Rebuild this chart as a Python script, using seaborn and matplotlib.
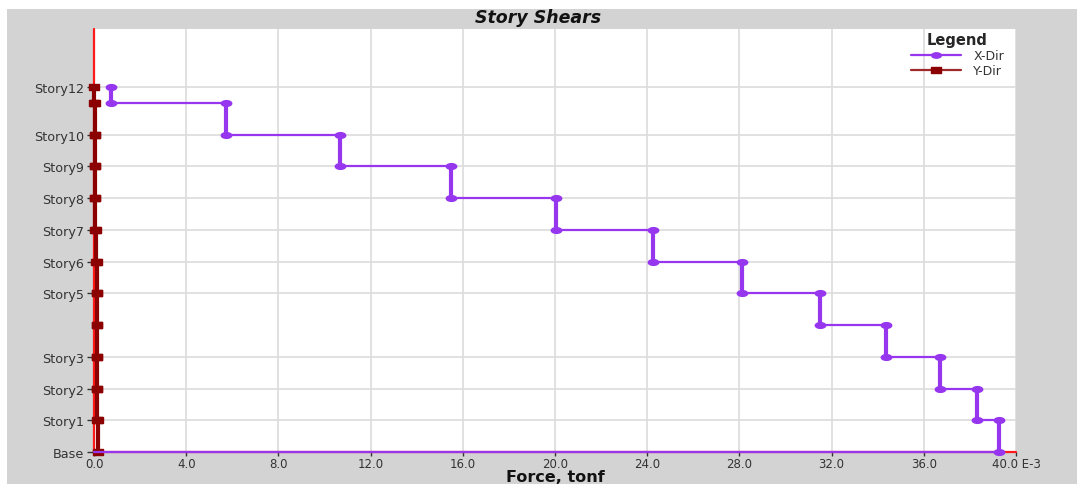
import numpy as np
import pandas as pd
import matplotlib
matplotlib.use("Agg")
import matplotlib.pyplot as plt
from matplotlib.path import Path
from matplotlib.lines import Line2D
from matplotlib.patches import Rectangle
import seaborn as sns

# Story names (top to bottom) and floor elevations in metres
stories = ["Story12", "Story11", "Story10", "Story9", "Story8", "Story7",
           "Story6", "Story5", "Story4", "Story3", "Story2", "Story1"]
elevations = [34.5, 33.0, 30.0, 27.0, 24.0, 21.0, 18.0, 15.0, 12.0, 9.0, 6.0, 3.0]
base_elevation = 0.0

# Story shears, tonf x 1E-3
shear_x = [0.74, 5.73, 10.67, 15.49, 20.04, 24.25, 28.11, 31.50, 34.36, 36.70, 38.30, 39.26]
shear_y = [0.02, 0.03, 0.04, 0.05, 0.05, 0.10, 0.11, 0.12, 0.13, 0.14, 0.15, 0.16]

# Axis labelling
tick_stories = ["Story12", "Story10", "Story9", "Story8", "Story7", "Story6",
                "Story5", "Story3", "Story2", "Story1", "Base"]
x_ticks = [0, 4, 8, 12, 16, 20, 24, 28, 32, 36, 40]
x_tick_labels = ["0.0", "4.0", "8.0", "12.0", "16.0", "20.0", "24.0",
                 "28.0", "32.0", "36.0", "40.0 E-3"]

C_X = "#9636EE"
C_Y = "#8B0000"
C_ZERO = "#FF1A1A"
BG = "#D3D3D3"

sns.set_theme(style="white")
plt.rcParams["font.family"] = ["DejaVu Sans"]


def step_profile(values):
    """Shear profile: each story's shear held between its floor and the floor below."""
    lower = elevations[1:] + [base_elevation]
    xs, ys = [], []
    for v, top, bot in zip(values, elevations, lower):
        xs += [v, v]
        ys += [top, bot]
    xs.append(0.0)
    ys.append(base_elevation)
    return pd.DataFrame({"force": xs, "elev": ys, "order": range(len(xs))})


prof_x = step_profile(shear_x)
prof_y = step_profile(shear_y)

fig = plt.figure(figsize=(10.77, 4.85), dpi=100, facecolor="white")
fig.patches.append(Rectangle((7 / 1077, 0), 1 - 7 / 1077, 1 - 10 / 485,
                             transform=fig.transFigure, facecolor=BG,
                             edgecolor="none", zorder=-10))
ax = fig.add_axes([94 / 1077, 32 / 485, 922 / 1077, 423 / 485])
ax.set_facecolor("white")

# zero reference lines
ax.axvline(0, color=C_ZERO, lw=1.6, zorder=2, clip_on=False)
ax.axhline(0, color=C_ZERO, lw=1.6, zorder=2, clip_on=False)

# flattened markers
circ = Path.unit_circle()
ell = Path(circ.vertices * np.array([1.0, 0.55]), circ.codes)
rect = Path([(-1, -0.6), (1, -0.6), (1, 0.6), (-1, 0.6), (-1, -0.6)],
            [Path.MOVETO, Path.LINETO, Path.LINETO, Path.LINETO, Path.CLOSEPOLY])

for prof, color, marker, ms, z in [(prof_y, C_Y, rect, 6.5, 4), (prof_x, C_X, ell, 7.5, 5)]:
    sns.lineplot(data=prof, x="force", y="elev", sort=False, estimator=None,
                 color=color, lw=1.6, ax=ax, zorder=z, clip_on=False)
    # vertical runs of each story drawn heavier
    runs = prof.iloc[:-1]
    tops = runs.iloc[0::2].reset_index(drop=True)
    bots = runs.iloc[1::2].reset_index(drop=True)
    ax.vlines(tops["force"], bots["elev"], tops["elev"], color=color, lw=3.0,
              zorder=z, clip_on=False)
    ax.plot(runs["force"], runs["elev"], ls="none", marker=marker, ms=ms,
            color=color, mec=color, zorder=z + 0.5, clip_on=False)

ax.set_xlim(0, 40)
ax.set_ylim(0, 40)

all_names = stories + ["Base"]
all_elev = elevations + [base_elevation]
ytick_pos = [all_elev[all_names.index(s)] for s in tick_stories]
ax.set_yticks(ytick_pos)
ax.set_yticklabels(tick_stories)
ax.set_xticks(x_ticks)
ax.set_xticklabels(x_tick_labels)

ax.grid(True, color="#DCDCDC", lw=1.2, zorder=0)
ax.set_axisbelow(True)
for s in ax.spines.values():
    s.set_visible(False)
ax.tick_params(axis="y", which="major", length=5, width=1, color="#333333",
               labelsize=9.2, labelcolor="#333333", pad=2, direction="out",
               left=True)
ax.tick_params(axis="x", which="major", length=3, width=1, color="#333333",
               labelsize=8.5, labelcolor="#333333", pad=0.5, direction="out",
               bottom=True)
ax.set_xlabel("Force, tonf", fontsize=11.5, fontweight="bold", color="#111111")
ax.xaxis.label.set_va("center")
ax.xaxis.set_label_coords(0.5, -25 / 423)
ax.set_ylabel("")

fig.text(0.5, 1 - 18 / 485, "Story Shears", ha="center", va="center",
         fontsize=12.5, fontweight="bold", style="italic", color="#111111")

handles = [
    Line2D([], [], color=C_X, lw=1.6, marker=ell, ms=7),
    Line2D([], [], color="#A02828", lw=1.6, marker=rect, ms=6.5, mfc=C_Y, mec=C_Y),
]
leg = ax.legend(handles, ["X-Dir", "Y-Dir"], loc="upper right",
                bbox_to_anchor=(0.995, 1.01), frameon=False, fontsize=9,
                title="Legend", handlelength=4.0, handletextpad=1.0,
                labelspacing=0.15, borderaxespad=0.2)
leg.get_title().set_fontweight("bold")
leg.get_title().set_fontsize(10.5)
for t in leg.get_texts():
    t.set_color("#333333")

fig.savefig("out.png", dpi=100, facecolor=fig.get_facecolor())
